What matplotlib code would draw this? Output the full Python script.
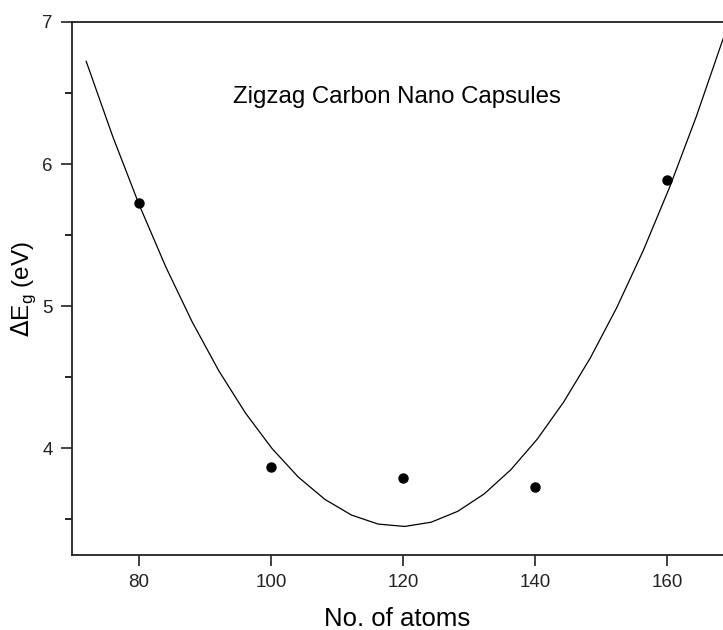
import matplotlib.pyplot as plt
import numpy as np

plt.rcParams['font.family'] = ['Liberation Sans', 'DejaVu Sans']

# data
atoms = [80, 100, 120, 140, 160]
gap = [5.73, 3.87, 3.79, 3.73, 5.89]

# quadratic fit drawn through the points
coef = np.polyfit(atoms, gap, 2)
xfit = np.linspace(72, 168.5, 25)
yfit = np.polyval(coef, xfit)

fig = plt.figure(figsize=(7.23, 6.3), dpi=100)
ax = fig.add_axes([72 / 723, 75 / 630, 1 - 72 / 723, 533 / 630])

ax.plot(xfit, yfit, color='black', lw=0.9)
ax.plot(atoms, gap, 'o', color='black', ms=6.5)

ax.set_xlim(69.85, 168.5)
ax.set_ylim(3.25, 7)
ax.set_xticks([80, 100, 120, 140, 160])
ax.set_yticks([4, 5, 6, 7])
ax.set_yticks([3.5, 4.5, 5.5, 6.5], minor=True)
ax.tick_params(axis='both', which='major', direction='out', length=8, width=1.2,
               labelsize=13.5, colors='#222222', pad=6)
ax.tick_params(axis='y', which='minor', direction='out', length=5, width=1.2)

for s in ['left', 'bottom', 'top']:
    ax.spines[s].set_linewidth(1.3)
    ax.spines[s].set_color('#222222')
ax.spines['right'].set_visible(False)

ax.set_xlabel('No. of atoms', fontsize=18.5, labelpad=11)
ax.set_ylabel(r'$\Delta$E$_\mathregular{g}$ (eV)', fontsize=17.5, labelpad=3)
ax.text(119.1, 6.47, 'Zigzag Carbon Nano Capsules', fontsize=17.3,
        ha='center', va='center')

plt.savefig('out.png', dpi=100)
